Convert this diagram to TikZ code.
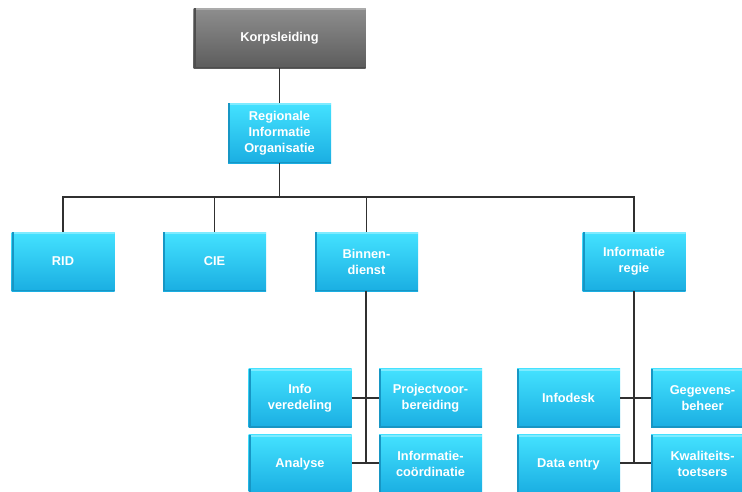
\documentclass[tikz,border=0pt]{standalone}
\usepackage{fontspec}
\setmainfont{Liberation Sans}
\definecolor{cyanTop}{HTML}{44E2FF}
\definecolor{cyanBot}{HTML}{1AAEE2}
\definecolor{cyanEdge}{HTML}{1796C4}
\definecolor{cyanHi}{HTML}{7EEBFF}
\definecolor{grayTop}{HTML}{8E8E8E}
\definecolor{grayBot}{HTML}{5C5C5C}
\definecolor{grayEdge}{HTML}{4E4E4E}
\definecolor{grayHi}{HTML}{ABABAB}
\definecolor{wire}{HTML}{303030}
\begin{document}
\begin{tikzpicture}[x=1pt,y=-1pt,
  orgbox/.style={minimum width=103pt, minimum height=59pt, inner sep=0pt,
    align=center, text=white, font=\bfseries\fontsize{12.8}{16}\selectfont,
    top color=cyanTop, bottom color=cyanBot,
    path picture={
      \fill[cyanHi] (path picture bounding box.north west) rectangle ([yshift=-2pt]path picture bounding box.north east);
      \fill[cyanEdge] (path picture bounding box.south west) rectangle ([xshift=2pt]path picture bounding box.north west);
      \fill[cyanEdge] (path picture bounding box.south west) rectangle ([yshift=1.5pt]path picture bounding box.south east);
    }},
  headbox/.style={orgbox, minimum width=172pt, minimum height=60pt,
    top color=grayTop, bottom color=grayBot,
    path picture={
      \fill[grayHi] (path picture bounding box.north west) rectangle ([yshift=-2pt]path picture bounding box.north east);
      \fill[grayEdge] (path picture bounding box.south west) rectangle ([xshift=2pt]path picture bounding box.north west);
      \fill[grayEdge] (path picture bounding box.south west) rectangle ([yshift=1.5pt]path picture bounding box.south east);
    }},
  link/.style={draw=wire, line width=1.1pt}
]
\useasboundingbox (0,0) rectangle (742,491);

% top of the hierarchy
\node[headbox] (korps) at (279.5,38) {Korpsleiding};
\node[orgbox, minimum height=60pt] (rio) at (279.5,133) {Regionale\\Informatie\\Organisatie};

% departments
\node[orgbox] (rid)    at (63,261.5)  {RID};
\node[orgbox] (cie)    at (214.5,261.5) {CIE};
\node[orgbox] (binnen) at (366.5,261.5) {Binnen-\\dienst};
\node[orgbox] (ireg)   at (634,261.5) {Informatie\\regie};

% Binnendienst units
\node[orgbox] (infover) at (300,398)   {Info\\veredeling};
\node[orgbox] (proj)    at (430.5,398) {Projectvoor-\\bereiding};
\node[orgbox] (analyse) at (300,464)   {Analyse};
\node[orgbox] (icoord)  at (430.5,464) {Informatie-\\coördinatie};

% Informatie regie units
\node[orgbox] (infodesk) at (568.5,398) {Infodesk};
\node[orgbox] (gegevens) at (702.5,398) {Gegevens-\\beheer};
\node[orgbox] (dataent)  at (568.5,464) {Data entry};
\node[orgbox] (kwal)     at (702.5,464) {Kwaliteits-\\toetsers};

% connectors
\coordinate (bus) at (279.5,197);
\coordinate (bdown) at (366,463);
\coordinate (rdown) at (634,463);
\draw[link] (korps.south) -- (rio.north);
\draw[link] (rio.south) -- (bus);
\draw[link] (rid.north) |- (bus) -| (ireg.north);
\draw[link] (cie.north) -- (cie.north |- bus);
\draw[link] (binnen.north) -- (binnen.north |- bus);

\draw[link] (binnen.south -| bdown) -- (bdown);
\draw[link] (infover.east) -- (proj.west);
\draw[link] (analyse.east |- bdown) -- (icoord.west |- bdown);

\draw[link] (ireg.south) -- (rdown);
\draw[link] (infodesk.east) -- (gegevens.west);
\draw[link] (dataent.east |- rdown) -- (kwal.west |- rdown);
\end{tikzpicture}
\end{document}
